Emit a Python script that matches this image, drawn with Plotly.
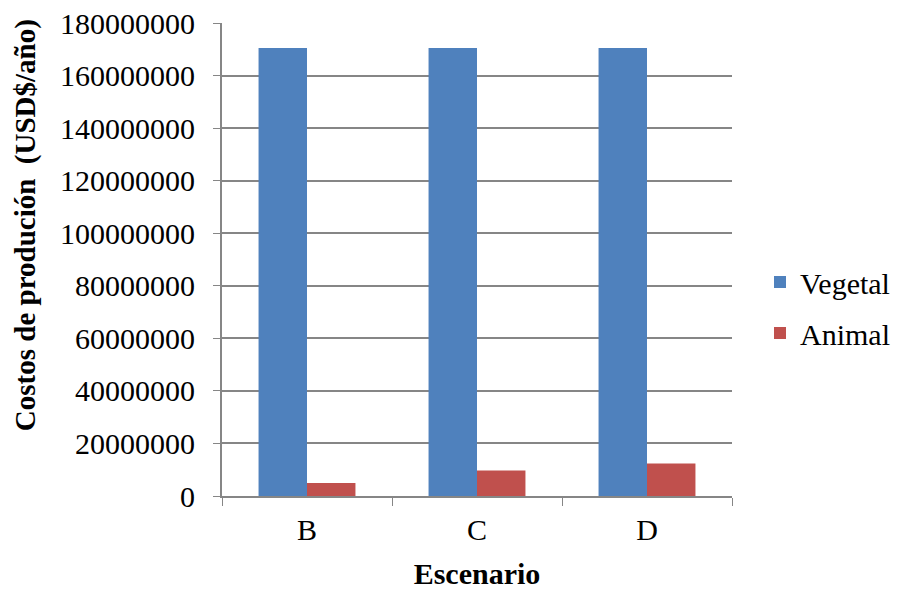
import plotly.graph_objects as go

categories = ["B", "C", "D"]
vegetal = [170500000, 170500000, 170500000]
animal = [4900000, 9700000, 12400000]
y_ticks = [0, 20000000, 40000000, 60000000, 80000000, 100000000, 120000000, 140000000, 160000000, 180000000]

FONT = "Liberation Serif, Times New Roman, serif"
W, H = 894, 590

fig = go.Figure()
fig.add_trace(go.Bar(name="Vegetal", x=categories, y=vegetal,
                     marker=dict(color="#4F81BD", line=dict(width=0)), legend="legend"))
fig.add_trace(go.Bar(name="Animal", x=categories, y=animal,
                     marker=dict(color="#C0504D", line=dict(width=0)), legend="legend2"))

leg_common = dict(xref="container", yref="container", xanchor="left", yanchor="middle",
                  font=dict(size=30, family=FONT), itemsizing="constant",
                  bgcolor="rgba(0,0,0,0)", borderwidth=0)

fig.update_layout(
    width=W, height=H,
    paper_bgcolor="white", plot_bgcolor="white",
    barmode="group", bargap=0.43, bargroupgap=0,
    margin=dict(l=214, r=170, t=15, b=102, pad=0, autoexpand=False),
    font=dict(family=FONT, size=30, color="black"),
    legend=dict(x=752 / W, y=1 - 274 / H, **leg_common),
    legend2=dict(x=752 / W, y=1 - 325 / H, **leg_common),
    showlegend=True,
)
fig.update_xaxes(
    type="category", tickson="boundaries", ticks="outside", ticklen=8, tickcolor="#868686",
    showline=True, linecolor="#868686", linewidth=2, showgrid=False, automargin=False,
    tickfont=dict(size=30), ticklabelstandoff=6,
    title=dict(text="<b>Escenario</b>", font=dict(size=30), standoff=18),
)
fig.update_yaxes(
    range=[0, 180000000], tickvals=y_ticks, ticktext=[str(v) for v in y_ticks],
    ticks="outside", ticklen=7, tickcolor="#868686", automargin=False,
    showline=True, linecolor="#868686", linewidth=2, ticklabeloverflow="allow",
    showgrid=True, gridcolor="#868686", gridwidth=1.5, zeroline=False,
    tickfont=dict(size=30), ticklabelstandoff=12,
)
fig.add_annotation(
    text="<b>Costos de produción  (USD$/año)</b>", textangle=-90,
    xref="paper", yref="paper", x=-0.384, y=0.573, xanchor="center", yanchor="middle",
    showarrow=False, font=dict(size=29, family=FONT),
)

fig.write_html("out.html")
